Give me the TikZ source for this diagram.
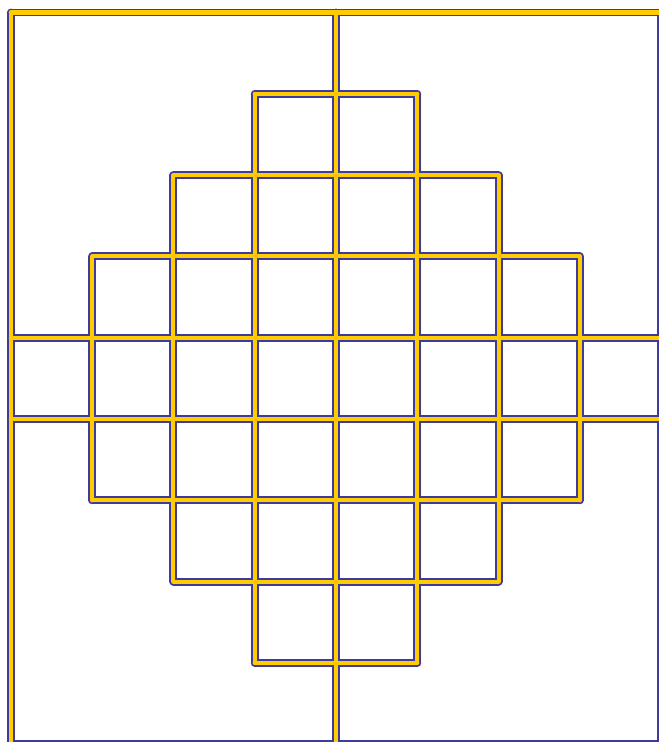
\documentclass[tikz,border=0pt]{standalone}
\usepackage{xcolor}
\usepackage{tikz}

\definecolor{gridblue}{RGB}{62,58,158}
\definecolor{gridgold}{RGB}{255,204,0}

\begin{document}
\begin{tikzpicture}[
  gridline/.style={draw=gridblue, line width=0.65pt, double=gridgold, double distance=1.45pt, line cap=round, line join=round}
]
\clip (-0.133,0.154) rectangle (7.973,-8.973);
\useasboundingbox (-0.133,0.154) rectangle (7.973,-8.973);
% horizontal rows: row / from / to
\draw[gridline]
  \foreach \j/\a/\b in {0/0/8, 1/3/5, 2/2/6, 3/1/7, 4/0/8, 5/0/8, 6/1/7, 7/2/6, 8/3/5, 9/0/8}
    {(\a,-\j) -- (\b,-\j)}
  % vertical columns: column / from / to
  \foreach \i/\a/\b in {0/0/9, 1/3/6, 2/2/7, 3/1/8, 4/0/9, 5/1/8, 6/2/7, 7/3/6, 8/0/9}
    {(\i,-\a) -- (\i,-\b)};
\end{tikzpicture}
\end{document}
